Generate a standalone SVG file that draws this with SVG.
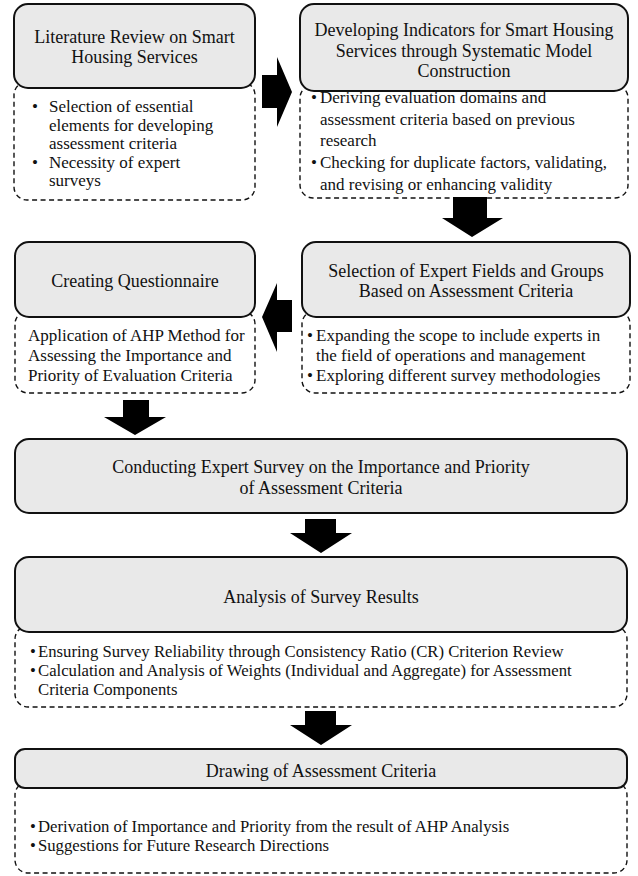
<svg xmlns="http://www.w3.org/2000/svg" width="638" height="876" viewBox="0 0 638 876">
<style>
.hd{fill:#e9e9e9;stroke:#111;stroke-width:2}
.ds{fill:#fff;stroke:#111;stroke-width:1.4;stroke-dasharray:5 3.5}
text{font-family:"Liberation Serif","Times New Roman",serif;fill:#111}
.h{font-size:18px;text-anchor:middle}
.b{font-size:17px}
.w{font-size:16.7px}
.arr{fill:#000}
</style>
<rect width="638" height="876" fill="#fff"/>

<g id="n1">
<rect class="ds" x="14" y="82" width="241" height="118" rx="13"/>
<rect class="hd" x="14" y="4" width="241" height="84" rx="14"/>
<text class="h" x="134.5" y="43">Literature Review on Smart</text>
<text class="h" x="134.5" y="63">Housing Services</text>
<text class="b" x="32" y="112">•</text><text class="b" x="49" y="112">Selection of essential</text>
<text class="b" x="49" y="130.5">elements for developing</text>
<text class="b" x="49" y="149">assessment criteria</text>
<text class="b" x="32" y="167.5">•</text><text class="b" x="49" y="167.5">Necessity of expert</text>
<text class="b" x="49" y="186">surveys</text>
</g>

<g id="n2">
<rect class="ds" x="300" y="85" width="328" height="113" rx="13"/>
<rect class="hd" x="300" y="4" width="328" height="87" rx="14"/>
<text class="h" x="464" y="36">Developing Indicators for Smart Housing</text>
<text class="h" x="464" y="56.5">Services through Systematic Model</text>
<text class="h" x="464" y="77">Construction</text>
<text class="b" x="311" y="103">•</text><text class="b" x="320" y="103">Deriving evaluation domains and</text>
<text class="b" x="320" y="124.5">assessment criteria based on previous</text>
<text class="b" x="320" y="146">research</text>
<text class="b" x="311" y="168">•</text><text class="b" x="320" y="168">Checking for duplicate factors, validating,</text>
<text class="b" x="320" y="189.5">and revising or enhancing validity</text>
</g>

<g id="n3">
<rect class="ds" x="302" y="311" width="328" height="82" rx="13"/>
<rect class="hd" x="302" y="242" width="328" height="75" rx="14"/>
<text class="h" x="466" y="277">Selection of Expert Fields and Groups</text>
<text class="h" x="466" y="297">Based on Assessment Criteria</text>
<text class="b" x="307" y="341">•</text><text class="b" x="316" y="341">Expanding the scope to include experts in</text>
<text class="b" x="316" y="361">the field of operations and management</text>
<text class="b" x="307" y="381">•</text><text class="b" x="316" y="381">Exploring different survey methodologies</text>
</g>

<g id="n4">
<rect class="ds" x="15" y="311" width="240" height="82" rx="13"/>
<rect class="hd" x="15" y="242" width="240" height="75" rx="14"/>
<text class="h" x="135" y="287">Creating Questionnaire</text>
<text class="b" x="28" y="341">Application of AHP Method for</text>
<text class="b" x="28" y="361">Assessing the Importance and</text>
<text class="b" x="28" y="381">Priority of Evaluation Criteria</text>
</g>

<g id="n5">
<rect class="hd" x="15" y="439" width="612" height="74" rx="14"/>
<text class="h" x="321" y="473">Conducting Expert Survey on the Importance and Priority</text>
<text class="h" x="321" y="494">of Assessment Criteria</text>
</g>

<g id="n6">
<rect class="ds" x="15" y="626" width="612" height="81" rx="13"/>
<rect class="hd" x="15" y="557" width="612" height="75" rx="14"/>
<text class="h" x="321" y="603">Analysis of Survey Results</text>
<text class="w" x="30" y="657">•</text><text class="w" x="38" y="657">Ensuring Survey Reliability through Consistency Ratio (CR) Criterion Review</text>
<text class="w" x="30" y="676">•</text><text class="w" x="38" y="676">Calculation and Analysis of Weights (Individual and Aggregate) for Assessment</text>
<text class="w" x="38" y="695">Criteria Components</text>
</g>

<g id="n7">
<rect class="ds" x="15" y="782" width="612" height="91" rx="13"/>
<rect class="hd" x="15" y="749" width="612" height="39" rx="10"/>
<text class="h" x="321" y="777">Drawing of Assessment Criteria</text>
<text class="w" x="30" y="832">•</text><text class="w" x="38" y="832">Derivation of Importance and Priority from the result of AHP Analysis</text>
<text class="w" x="30" y="851">•</text><text class="w" x="38" y="851">Suggestions for Future Research Directions</text>
</g>

<g id="connectors">
<polygon class="arr" points="262,75 277,75 277,57 292,92 277,127 277,108 262,108"/>
<polygon class="arr" points="453,197 487,197 487,218 503,218 472,237 442,218 453,218"/>
<polygon class="arr" points="292,300 277,300 277,283 262,317 277,352 277,332 292,332"/>
<polygon class="arr" points="123,400 149,400 149,417 166,417 135,435 104,417 123,417"/>
<polygon class="arr" points="305,519 336,519 336,533 352,533 321,553 290,533 305,533"/>
<polygon class="arr" points="305,711 336,711 336,725 352,725 321,745 290,725 305,725"/>
</g>
</svg>
